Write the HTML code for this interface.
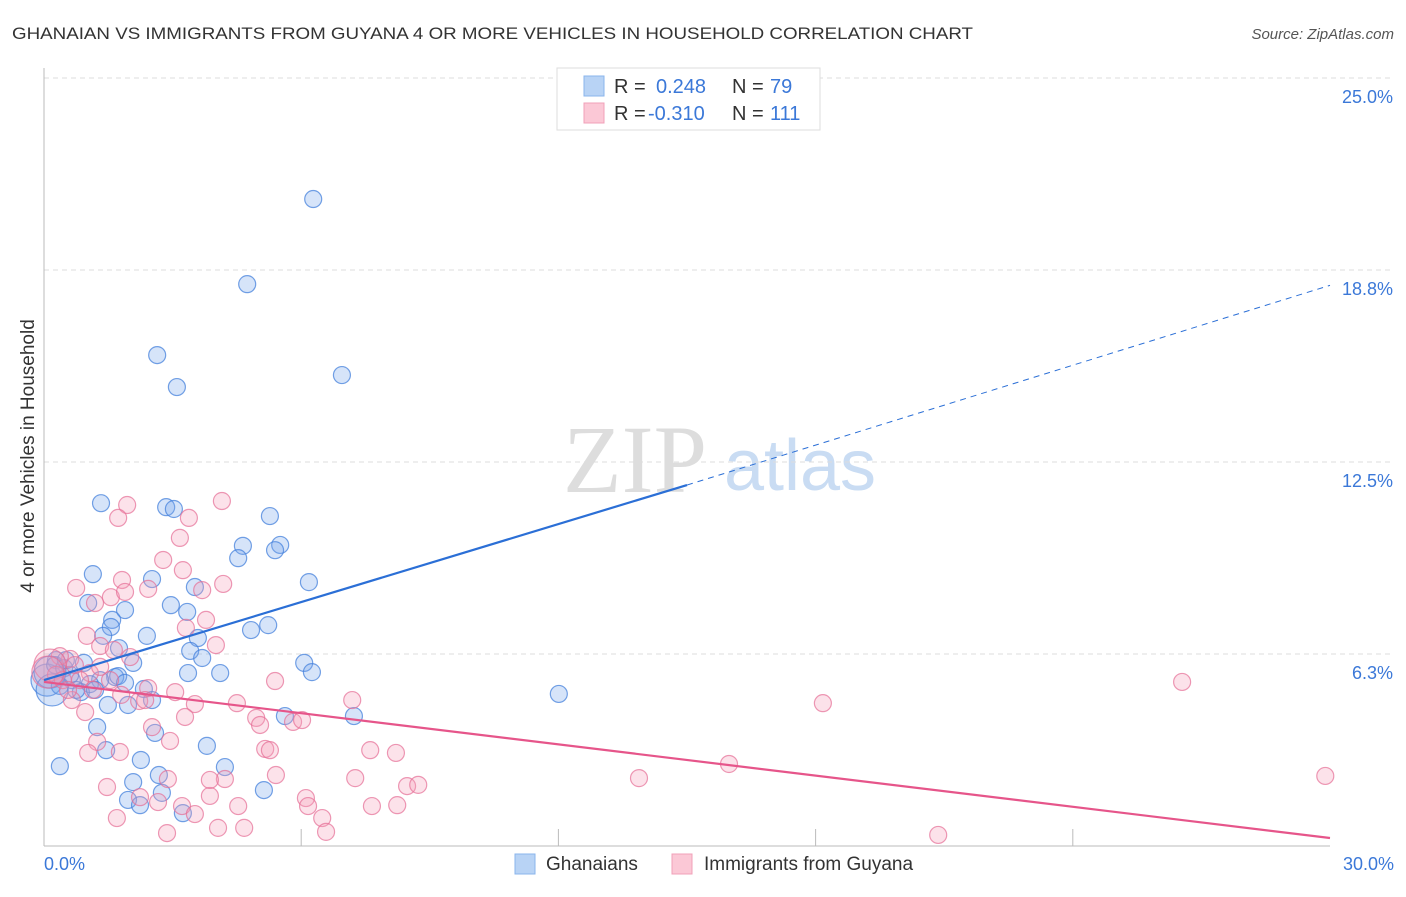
<!DOCTYPE html>
<html><head><meta charset="utf-8"><style>
body{margin:0;background:#fff;font-family:"Liberation Sans",sans-serif;}
svg text{font-family:"Liberation Sans",sans-serif;}
</style></head><body>
<svg width="1406" height="892" viewBox="0 0 1406 892" id="chart">
<text x="12" y="39" font-size="17" fill="#333" textLength="961" lengthAdjust="spacingAndGlyphs">GHANAIAN VS IMMIGRANTS FROM GUYANA 4 OR MORE VEHICLES IN HOUSEHOLD CORRELATION CHART</text>
<text x="1394" y="39" font-size="15" fill="#555" font-style="italic" text-anchor="end">Source: ZipAtlas.com</text>
<text x="34" y="456" font-size="19" fill="#333" text-anchor="middle" transform="rotate(-90 34 456)">4 or more Vehicles in Household</text>
<g>
<text x="635" y="492" font-size="96" fill="#ddd" font-family="Liberation Serif" text-anchor="middle" style="font-family:'Liberation Serif',serif">ZIP</text>
<text x="800" y="490" font-size="72" fill="#c9dcf3" text-anchor="middle">atlas</text>
</g>
<g id="grid"></g><g id="pts"></g><g id="lines"></g>
<g>
<rect x="557" y="68" width="263" height="62" fill="#fff" stroke="#ddd"/>
<rect x="584" y="76" width="20" height="20" fill="#b8d3f5" stroke="#8ab4ec"/>
<rect x="584" y="103" width="20" height="20" fill="#fbc8d6" stroke="#f0a0b8"/>
<text x="614" y="93" font-size="20" fill="#333">R = </text><text x="656" y="93" font-size="20" fill="#3b78d8">0.248</text>
<text x="732" y="93" font-size="20" fill="#333">N = </text><text x="770" y="93" font-size="20" fill="#3b78d8">79</text>
<text x="614" y="120" font-size="20" fill="#333">R = </text><text x="648" y="120" font-size="20" fill="#3b78d8">-0.310</text>
<text x="732" y="120" font-size="20" fill="#333">N = </text><text x="770" y="120" font-size="20" fill="#3b78d8">111</text>
</g>
<g>
<rect x="515" y="854" width="20" height="20" fill="#b8d3f5" stroke="#8ab4ec"/>
<text x="546" y="870" font-size="19" fill="#333">Ghanaians</text>
<rect x="672" y="854" width="20" height="20" fill="#fbc8d6" stroke="#f0a0b8"/>
<text x="704" y="870" font-size="19" fill="#333">Immigrants from Guyana</text>
</g>
</svg>
<script>
const yTicks=[25,18.75,12.5,6.25];
const yTickLabels=["25.0%","18.8%","12.5%","6.3%"];
const xTicks=[6,12,18,24];
const blueX=[6.28,4.74,2.64,3.10,6.95,1.33,2.85,3.03,5.27,5.51,4.64,5.39,4.53,1.14,2.52,6.18,3.52,1.03,2.96,1.89,3.34,1.59,1.56,5.23,4.83,3.59,2.40,1.38,1.75,3.41,3.69,2.08,0.28,0.93,6.07,6.25,4.11,3.36,12.01,2.33,1.66,1.31,0.65,1.07,0.86,2.52,1.49,1.96,2.59,3.80,1.24,1.45,0.37,2.26,4.22,2.08,2.68,5.13,2.75,1.96,2.24,3.24,5.62,7.23,0.07,0.14,0.26,0.47,0.61,0.37,0.19,0.75,0.51,1.73,1.89,1.19];
const blueY=[21.06,18.29,15.98,14.94,15.33,11.16,11.03,10.97,10.74,9.80,9.77,9.63,9.37,8.85,8.69,8.59,8.43,7.91,7.84,7.68,7.62,7.36,7.13,7.19,7.03,6.77,6.84,6.84,6.44,6.35,6.12,5.96,6.05,5.96,5.96,5.66,5.63,5.63,4.95,5.11,5.50,5.40,5.40,5.27,5.01,4.75,4.59,4.59,3.68,3.26,3.87,3.12,2.60,2.80,2.57,2.08,2.31,1.82,1.73,1.50,1.33,1.07,4.23,4.23,5.40,5.66,5.89,5.79,5.57,5.21,5.08,5.08,6.05,5.53,5.31,5.08];
const pinkX=[4.15,1.94,1.73,3.38,3.17,2.78,1.82,3.24,2.43,0.75,4.18,1.56,3.69,1.19,1.89,3.78,1.00,1.31,1.63,3.31,4.01,2.01,0.61,1.07,5.39,3.06,2.43,4.50,3.52,7.19,18.17,26.55,0.65,0.96,1.14,1.54,2.22,1.80,4.95,5.04,5.81,6.02,3.29,2.52,2.94,1.24,1.77,5.16,5.27,7.61,8.21,1.03,7.26,4.22,5.41,2.89,8.47,8.73,13.88,15.98,29.89,1.47,2.24,2.66,3.22,3.87,4.53,6.11,6.16,7.65,8.24,1.70,3.52,6.49,4.06,4.67,2.87,6.58,20.86,0.37,0.14,0.28,0.44,0.72,0.84,0.09,1.31,0.56,3.87,2.36];
const pinkY=[11.23,11.10,10.68,10.68,10.03,9.31,8.66,8.98,8.37,8.40,8.53,8.10,8.33,7.91,8.27,7.36,6.84,6.51,6.38,7.10,6.54,6.15,6.09,5.63,5.37,5.01,5.14,4.65,4.62,4.75,4.65,5.34,4.75,4.36,5.08,5.40,4.72,4.92,4.17,3.94,4.04,4.10,4.20,3.87,3.42,3.39,3.06,3.16,3.12,3.12,3.03,3.03,2.21,2.18,2.31,2.18,1.95,1.99,2.21,2.67,2.28,1.92,1.59,1.43,1.30,1.63,1.30,1.56,1.30,1.30,1.33,0.91,1.04,0.91,0.59,0.59,0.42,0.46,0.36,6.18,5.89,5.57,5.40,5.89,5.40,5.66,5.83,5.08,2.15,4.75];
const blueTrend=[[0,5.40],[15,11.75],[30,18.25]];
const pinkTrend=[[0,5.34],[30,0.26]];
const X0=44,X1=1330,Y0=846,Y1=78;
const sx=v=>X0+(X1-X0)*v/30, sy=v=>Y0-(Y0-Y1)*v/25;
const NS='http://www.w3.org/2000/svg';
function mk(t,a,p){const e=document.createElementNS(NS,t);for(const k in a)e.setAttribute(k,a[k]);p.appendChild(e);return e;}
const g=document.getElementById('grid');
yTicks.forEach((t,i)=>{
 const l=mk('line',{x1:X0,x2:1394,y1:sy(t),y2:sy(t),stroke:'#ddd','stroke-dasharray':'5,4'},g);
 
 
 const tx=mk('text',{x:1393,y:sy(t)+25,'font-size':18,fill:'#3b78d8','text-anchor':'end'},g);
 tx.textContent=yTickLabels[i];
 
 
});
const ax=mk('line',{x1:X0,x2:X0,y1:68,y2:Y0,stroke:'#bbb'},g);


const bx=mk('line',{x1:X0,x2:X1,y1:Y0,y2:Y0,stroke:'#bbb'},g);


xTicks.forEach(t=>{
 const l=mk('line',{x1:sx(t),x2:sx(t),y1:Y0-17,y2:Y0,stroke:'#bbb'},g);
 
 
});
const xl=mk('text',{x:44,y:870,'font-size':18,fill:'#3b78d8'},g);xl.textContent='0.0%';


const xr=mk('text',{x:1394,y:870,'font-size':18,fill:'#3b78d8','text-anchor':'end'},g);xr.textContent='30.0%';


const P=document.getElementById('pts');
function dots(xs,ys,fill,stroke,name){xs.forEach((x,i)=>{
 const r=x<0.2?16:8.5;
 const c=mk('circle',{cx:sx(x),cy:sy(ys[i]),r:r,fill:fill,stroke:stroke,'stroke-width':1.2},P);
 
 
});}
dots(blueX,blueY,'rgba(120,165,235,0.3)','rgba(70,130,220,0.75)','ghanaian-point');
dots(pinkX,pinkY,'rgba(245,160,185,0.3)','rgba(230,110,150,0.7)','guyana-point');
const L=document.getElementById('lines');
const b1=mk('line',{x1:sx(blueTrend[0][0]),y1:sy(blueTrend[0][1]),x2:sx(blueTrend[1][0]),y2:sy(blueTrend[1][1]),stroke:'#2b6fd6','stroke-width':2.2},L);


const b2=mk('line',{x1:sx(blueTrend[1][0]),y1:sy(blueTrend[1][1]),x2:sx(blueTrend[2][0]),y2:sy(blueTrend[2][1]),stroke:'#2b6fd6','stroke-width':1,'stroke-dasharray':'6,5'},L);


const p1=mk('line',{x1:sx(pinkTrend[0][0]),y1:sy(pinkTrend[0][1]),x2:sx(pinkTrend[1][0]),y2:sy(pinkTrend[1][1]),stroke:'#e6558a','stroke-width':2.2},L);


</script>
</body></html>
